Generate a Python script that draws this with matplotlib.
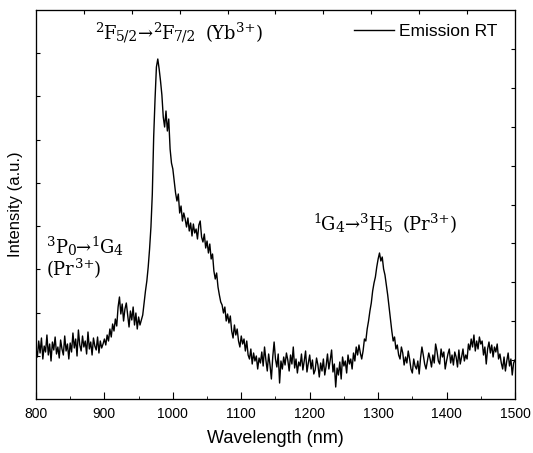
import numpy as np
import matplotlib
matplotlib.use("Agg")
import matplotlib.pyplot as plt

# emission spectrum, 2 nm steps from 800 to 1500 nm
wavelength = np.arange(800, 1501, 2)
intensity = [
    50, 42, 58, 46, 61, 40, 53, 47, 64, 44, 55, 38, 57, 49, 62, 45, 52, 41, 59, 50, 44, 63, 48, 55, 40,
    56, 47, 66, 51, 60, 43, 69, 54, 48, 63, 52, 58, 45, 67, 50, 57, 44, 61, 53, 49, 62, 46, 58, 51, 55,
    60, 54, 64, 58, 70, 62, 75, 68, 80, 73, 92, 102, 85, 95, 78, 90, 96, 84, 72, 88, 79, 92, 74, 86, 70,
    82, 74, 79, 84, 96, 108, 118, 132, 150, 172, 205, 262, 300, 332, 340, 330, 318, 304, 282, 272, 288, 268, 280, 250, 236,
    230, 218, 206, 198, 205, 186, 193, 178, 186, 180, 172, 181, 168, 176, 163, 175, 166, 170, 160, 174, 178, 162, 157, 165, 151,
    158, 146, 155, 140, 145, 128, 120, 126, 112, 104, 97, 94, 86, 92, 78, 85, 76, 83, 68, 61, 74, 64, 70, 58, 52,
    63, 55, 60, 48, 58, 44, 40, 50, 35, 46, 38, 43, 30, 41, 36, 47, 33, 52, 39, 28, 45, 34, 20, 42, 57,
    40, 32, 45, 16, 38, 30, 42, 34, 46, 39, 28, 44, 35, 52, 31, 40, 26, 37, 33, 45, 29, 38, 48, 27, 36,
    44, 30, 39, 25, 29, 41, 34, 22, 36, 28, 40, 24, 33, 45, 30, 39, 49, 27, 35, 12, 31, 24, 37, 20, 42,
    33, 38, 26, 44, 35, 40, 30, 46, 38, 52, 44, 54, 46, 40, 48, 60, 58, 70, 78, 88, 96, 108, 116, 122, 132,
    140, 146, 138, 142, 130, 124, 114, 104, 92, 80, 68, 58, 62, 50, 54, 44, 40, 52, 46, 34, 42, 36, 48, 40, 30,
    26, 40, 33, 30, 38, 25, 41, 52, 44, 35, 30, 38, 46, 40, 32, 44, 36, 55, 48, 38, 35, 50, 42, 47, 30,
    38, 45, 50, 36, 44, 34, 47, 42, 32, 49, 35, 42, 50, 38, 44, 40, 55, 49, 60, 52, 64, 48, 58, 50, 62,
    55, 58, 44, 52, 35, 50, 57, 46, 54, 42, 52, 47, 55, 40, 45, 36, 30, 42, 28, 38, 46, 33, 40, 24, 36, 39,
]
y_top = 389

plt.rcParams['font.family'] = ['Liberation Sans', 'DejaVu Sans']

fig = plt.figure(figsize=(5.33, 4.53), dpi=100)
ax = fig.add_axes([0.0675, 0.1192, 0.8987, 0.8587])

ax.plot(wavelength, intensity, color='black', lw=1.0, label='Emission RT')

ax.set_xlim(800, 1500)
ax.set_ylim(0, y_top)
ax.set_xticks(np.arange(800, 1501, 100))
ax.set_xticks(np.arange(850, 1500, 100), minor=True)
ax.set_yticks(np.linspace(0, y_top, 10)[1:-1])
ax.set_yticklabels([])
ax.tick_params(axis='x', which='major', direction='in', length=5, labelsize=10, pad=6)
ax.tick_params(axis='x', which='minor', direction='in', length=2.5)
ax.tick_params(axis='y', direction='in', length=3)
ax.set_xlabel('Wavelength (nm)', fontsize=13, labelpad=6)
ax.set_ylabel('Intensity (a.u.)', fontsize=12)
ax.yaxis.set_label_coords(-0.027, 0.5)

# mirrored top / right axes with their own tick spacing
top = ax.twiny()
top.set_xlim(0, 10)
top.set_xticks(range(1, 10))
top.set_xticklabels([])
top.tick_params(direction='in', length=3)
right = ax.twinx()
right.set_ylim(0, 10)
right.set_yticks(range(1, 10))
right.set_yticklabels([])
right.tick_params(direction='in', length=3)

ax.legend(loc='upper right', bbox_to_anchor=(0.986, 0.99), frameon=False,
          fontsize=12.5, handlelength=2.3, handletextpad=0.3, borderaxespad=0.2)

renderer = fig.canvas.get_renderer()


def label(x, y, parts):
    # write a label piece by piece so sub/superscripts can be sized freely
    off = 0.0
    for p in parts:
        if isinstance(p, (int, float)):
            off += p
            continue
        s, kind = p
        size, dy = {'n': (13, 0), 's': (9.5, 5), 'b': (10, -1.3), 'a': (13, 0)}[kind]
        t = ax.annotate(s, (x, y), xytext=(off, dy), textcoords='offset points',
                        fontsize=size, family='DejaVu Serif', ha='left', va='baseline')
        off += t.get_window_extent(renderer).width * 72 / fig.dpi


label(886, 360, [('2', 's'), ('F', 'n'), ('5/2', 'b'), ('→', 'a'), ('2', 's'), ('F', 'n'),
                 ('7/2', 'b'), 7, ('(Yb', 'n'), ('3+', 's'), (')', 'n')])
label(816, 146, [('3', 's'), ('P', 'n'), ('0', 'b'), ('→', 'a'), ('1', 's'), ('G', 'n'), ('4', 'b')])
label(816, 124, [('(Pr', 'n'), ('3+', 's'), (')', 'n')])
label(1205, 169, [('1', 's'), ('G', 'n'), ('4', 'b'), ('→', 'a'), ('3', 's'), ('H', 'n'),
                  ('5', 'b'), 7, ('(Pr', 'n'), ('3+', 's'), (')', 'n')])

fig.savefig('out.png', dpi=100)
